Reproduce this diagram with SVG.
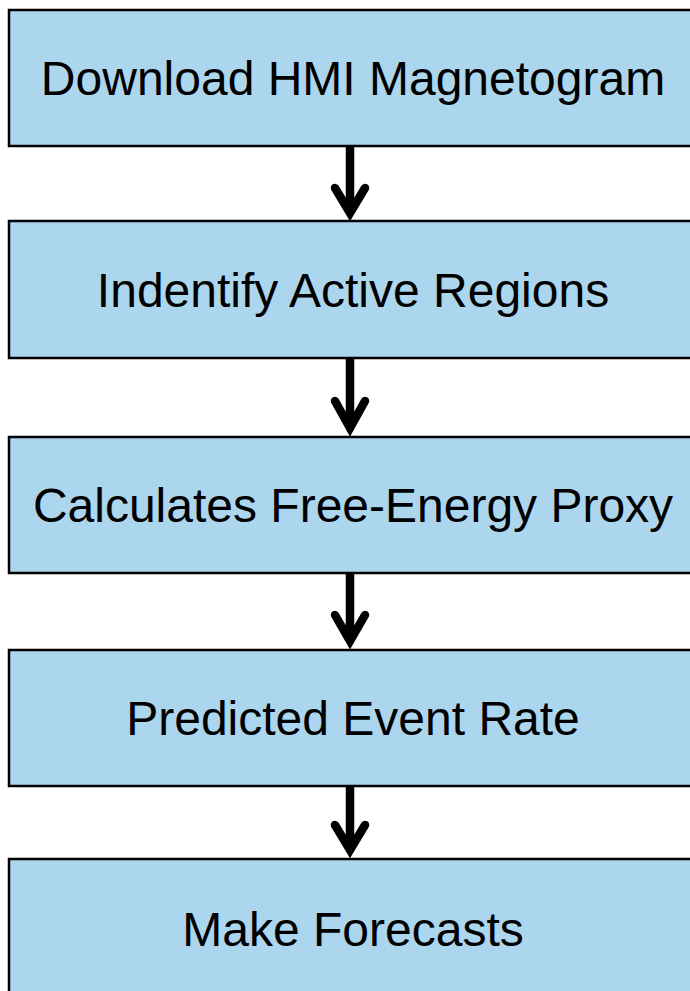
<svg xmlns="http://www.w3.org/2000/svg" width="690" height="991" viewBox="0 0 690 991">
  <style>
    .box { fill: #acd5ee; stroke: #000; stroke-width: 2.5; }
    .label { font-family: "Liberation Sans", Arial, sans-serif; font-size: 48px; fill: #000; text-anchor: middle; }
    .arrow { fill: none; stroke: #000; stroke-width: 8.5; stroke-linecap: round; stroke-linejoin: miter; stroke-miterlimit: 10; }
  </style>
  <rect width="690" height="991" fill="#fff"/>

  <g id="connectors">
    <path class="arrow" d="M350 147 V213 M335 188 L350 213 L365 188"/>
    <path class="arrow" d="M350 359 V428 M335 401 L350 428 L365 401"/>
    <path class="arrow" d="M350 574 V641 M335 615 L350 641 L365 615"/>
    <path class="arrow" d="M350 787 V850 M335 825 L350 850 L365 825"/>
  </g>

  <g id="download">
    <rect class="box" x="9" y="10" width="700" height="136"/>
    <text class="label" x="353" y="95">Download HMI Magnetogram</text>
  </g>
  <g id="identify">
    <rect class="box" x="9" y="221" width="700" height="137"/>
    <text class="label" x="353" y="307">Indentify Active Regions</text>
  </g>
  <g id="proxy">
    <rect class="box" x="9" y="437" width="700" height="136"/>
    <text class="label" x="353" y="522">Calculates Free-Energy Proxy</text>
  </g>
  <g id="rate">
    <rect class="box" x="9" y="650" width="700" height="136"/>
    <text class="label" x="353" y="735">Predicted Event Rate</text>
  </g>
  <g id="forecast">
    <rect class="box" x="9" y="859" width="700" height="136"/>
    <text class="label" x="353" y="946">Make Forecasts</text>
  </g>
</svg>
